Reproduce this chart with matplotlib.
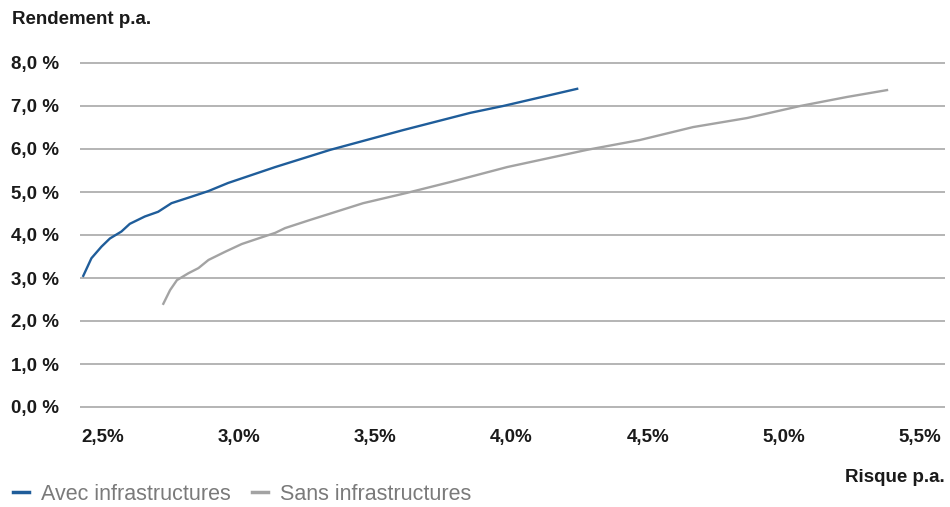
import matplotlib

matplotlib.use("Agg")
import matplotlib.pyplot as plt

plt.rcParams["font.family"] = ["Liberation Sans", "DejaVu Sans"]

# risk (x, %) / return (y, %)
avec_risk = [2.427, 2.457, 2.494, 2.525, 2.567, 2.598, 2.653, 2.702, 2.751,
             2.824, 2.886, 2.959, 3.132, 3.334, 3.602, 3.848, 3.969, 4.241]
avec_ret = [3.05, 3.46, 3.73, 3.92, 4.08, 4.26, 4.43, 4.54, 4.74,
            4.89, 5.02, 5.21, 5.58, 5.98, 6.44, 6.84, 7.00, 7.40]

sans_risk = [2.721, 2.746, 2.771, 2.813, 2.850, 2.887, 2.948, 3.009, 3.070,
             3.132, 3.168, 3.260, 3.455, 3.616, 3.774, 3.984, 4.277, 4.472,
             4.667, 4.865, 5.060, 5.232, 5.379]
sans_ret = [2.40, 2.72, 2.95, 3.11, 3.23, 3.42, 3.61, 3.79, 3.92,
            4.05, 4.16, 4.35, 4.74, 4.98, 5.23, 5.58, 5.98, 6.21,
            6.51, 6.72, 7.00, 7.21, 7.37]

y_ticks = [0, 1, 2, 3, 4, 5, 6, 7, 8]
x_ticks = [2.5, 3.0, 3.5, 4.0, 4.5, 5.0, 5.5]

BLUE = "#1f5d9a"
GREY = "#a3a3a3"
TEXT = "#1a1a1a"

fig = plt.figure(figsize=(9.5, 5.07), dpi=100)
# axes placed in pixels: gridlines from x=80 to 945, y=63 (8 %) to 407 (0 %)
W, H = 950, 507
ppy = 43.0
top_px, bot_px = 63 - 0.1 * ppy, 407 + 0.1 * ppy
ax = fig.add_axes([80 / W, 1 - bot_px / H, 865 / W, (bot_px - top_px) / H])
ax.set_ylim(-0.1, 8.1)
ax.set_xlim(2.415, 5.592)

for v in y_ticks:
    ax.axhline(v, color="#a8a8a8", lw=1.2, zorder=1)

ax.plot(avec_risk, avec_ret, color=BLUE, lw=1.7, zorder=3,
        label="Avec infrastructures")
ax.plot(sans_risk, sans_ret, color=GREY, lw=1.7, zorder=3,
        label="Sans infrastructures")

for s in ax.spines.values():
    s.set_visible(False)
ax.set_yticks(y_ticks)
ax.set_yticklabels([f"{v:.1f} %".replace(".", ",") for v in y_ticks],
                   fontsize=13.5, fontweight="bold", color=TEXT)
ax.set_xticks(x_ticks)
ax.set_xticklabels([f"{v:.1f}%".replace(".", ",") for v in x_ticks],
                   fontsize=13.5, fontweight="bold", color=TEXT)
ax.tick_params(axis="y", length=0, pad=15)
ax.tick_params(axis="x", length=0, pad=13)

fig.text(12 / W, 1 - 20 / H, "Rendement p.a.", fontsize=13.5,
         fontweight="bold", color=TEXT, va="center", ha="left")
fig.text(945 / W, 1 - 477 / H, "Risque p.a.", fontsize=13.5,
         fontweight="bold", color=TEXT, va="center", ha="right")

leg = fig.legend(loc="center left", bbox_to_anchor=(4 / W, 1 - 494 / H),
                 ncol=2, frameon=False, fontsize=15.5, handlelength=0.75,
                 handletextpad=0.55, columnspacing=1.0, borderaxespad=0)
for t in leg.get_texts():
    t.set_color("#7a7a7a")
for h in leg.get_lines():
    h.set_linewidth(2.5)

fig.savefig("out.png", dpi=100)
